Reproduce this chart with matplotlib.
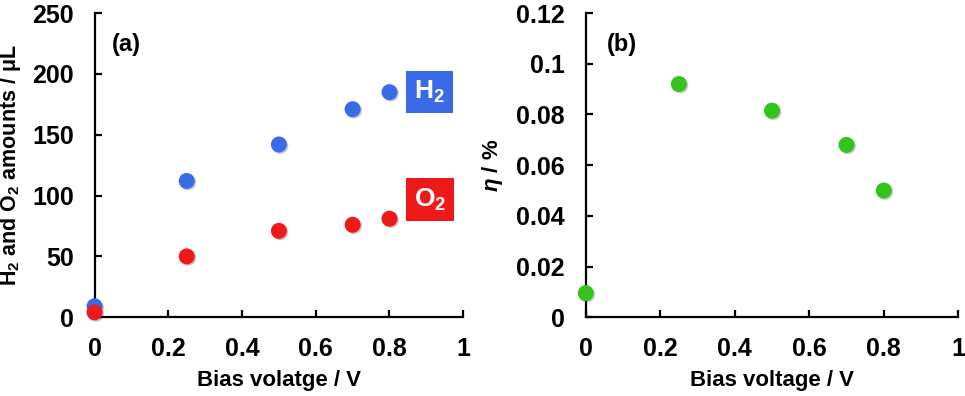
import numpy as np
import matplotlib
matplotlib.use("Agg")
import matplotlib.pyplot as plt
import matplotlib.patheffects as pe

plt.rcParams['font.family'] = ['Liberation Sans', 'DejaVu Sans']
plt.rcParams['font.weight'] = 'bold'
plt.rcParams['mathtext.fontset'] = 'custom'
plt.rcParams['mathtext.rm'] = 'Liberation Sans:bold'
plt.rcParams['mathtext.bf'] = 'Liberation Sans:bold'
plt.rcParams['mathtext.it'] = 'Liberation Sans:bold:italic'

# data
bias = [0, 0.25, 0.5, 0.7, 0.8]
h2_amount = [9, 112, 142, 171, 185]
o2_amount = [4, 50, 71, 76, 81]
eta = [0.0095, 0.092, 0.0815, 0.068, 0.050]

blue = "#3b6ae8"
red = "#ee1a1a"
green = "#35c21c"

def style_axes(ax):
	ax.spines['top'].set_visible(False)
	ax.spines['right'].set_visible(False)
	ax.spines['left'].set_linewidth(1.6)
	ax.spines['bottom'].set_linewidth(1.6)
	ax.tick_params(direction='in', length=5, width=1.6, labelsize=18)
	ax.tick_params(axis='x', pad=14)
	ax.tick_params(axis='y', pad=15)
	ax.set_xlim(0, 1)
	ax.set_xticks([0, 0.2, 0.4, 0.6, 0.8, 1])
	ax.set_xticklabels(["0", "0.2", "0.4", "0.6", "0.8", "1"])
	for lab in ax.get_xticklabels() + ax.get_yticklabels():
		lab.set_fontweight('bold')

def dots(ax, x, y, c):
	shadow = [pe.SimplePatchShadow(offset=(1, -1), alpha=0.25), pe.Normal()]
	ax.plot(x, y, 'o', ms=11.5, color=c, mec='none', clip_on=False, zorder=5, path_effects=shadow)

fig = plt.figure(figsize=(9.65, 3.96), dpi=100)
ax1 = fig.add_axes([0.098, 0.199, 0.382, 0.768])
ax2 = fig.add_axes([0.607, 0.199, 0.386, 0.768])

# (a) gas amounts
style_axes(ax1)
ax1.set_ylim(0, 250)
ax1.set_yticks([0, 50, 100, 150, 200, 250])
dots(ax1, bias, h2_amount, blue)
dots(ax1, bias, o2_amount, red)
ax1.set_xlabel("Bias volatge / V", fontsize=16, fontweight='bold', labelpad=7)
ax1.set_ylabel("H$_2$ and O$_2$ amounts / μL", fontsize=15.5, fontweight='bold')
ax1.yaxis.set_label_coords(-0.194, 0.5)
ax1.text(0.048, 0.875, "(a)", transform=ax1.transAxes, fontsize=17, fontweight='bold')
ax1.text(0.908, 0.742, "H$_2$", transform=ax1.transAxes, fontsize=19, color='white',
	ha='center', va='center',
	bbox=dict(boxstyle='square,pad=0.3', fc=blue, ec='none'))
ax1.text(0.91, 0.387, "O$_2$", transform=ax1.transAxes, fontsize=19, color='white',
	ha='center', va='center',
	bbox=dict(boxstyle='square,pad=0.3', fc=red, ec='none'))

# (b) efficiency
style_axes(ax2)
ax2.set_ylim(0, 0.12)
ax2.set_yticks([0, 0.02, 0.04, 0.06, 0.08, 0.1, 0.12])
ax2.set_yticklabels(["0", "0.02", "0.04", "0.06", "0.08", "0.1", "0.12"])
for lab in ax2.get_yticklabels():
	lab.set_fontweight('bold')
dots(ax2, bias, eta, green)
ax2.set_xlabel("Bias voltage / V", fontsize=16, fontweight='bold', labelpad=7)
ax2.set_ylabel("$\\mathit{\\eta}$ / %", fontsize=16, fontweight='bold')
ax2.yaxis.set_label_coords(-0.218, 0.5)
ax2.text(0.058, 0.875, "(b)", transform=ax2.transAxes, fontsize=17, fontweight='bold')

fig.savefig("out.png", dpi=100)
